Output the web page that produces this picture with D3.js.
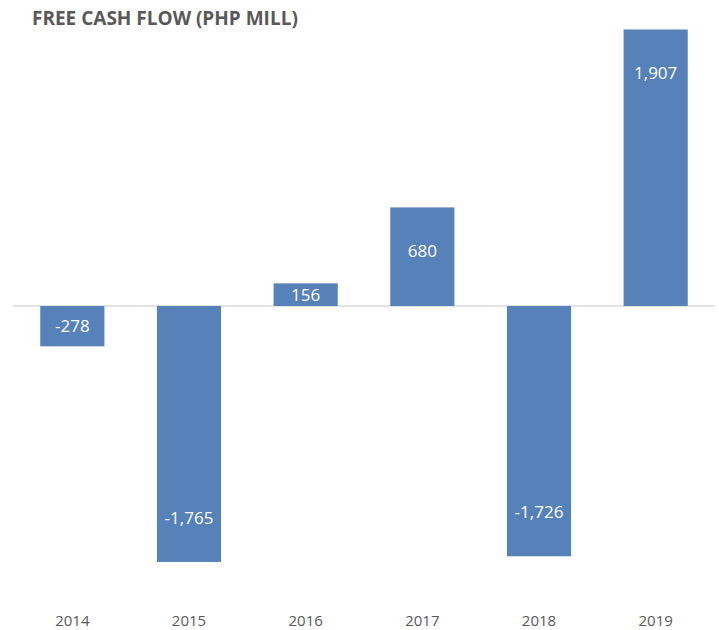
<!DOCTYPE html>
<meta charset="utf-8">
<script src="https://cdn.jsdelivr.net/npm/d3@7"></script>
<style>
body { margin: 0; background: #fff; }
.title { font-family: "Open Sans", sans-serif; font-weight: bold; font-size: 19px; fill: #595959; }
.xlab { font-family: "Open Sans", sans-serif; font-size: 15px; fill: #595959; }
.val { font-family: "Open Sans", sans-serif; font-size: 17px; fill: #fff; }
</style>
<body>
<script>

var years = ["2014", "2015", "2016", "2017", "2018", "2019"]
var fcf = [-278, -1765, 156, 680, -1726, 1907]

var width = 719
var height = 630

var svg = d3.select("body").append("svg")
            .attr("width", width)
            .attr("height", height)

var x = d3.scaleBand().domain(years).range([14, 714]).paddingInner(0.45).paddingOuter(0.225)
var y = d3.scaleLinear().domain([-2000, 2000]).range([596, 16])

svg.append("text")
   .attr("class", "title")
   .attr("x", 32)
   .attr("y", 25)
   .text("FREE CASH FLOW (PHP MILL)")

// zero line
svg.append("line")
   .attr("x1", 13)
   .attr("x2", 714)
   .attr("y1", y(0))
   .attr("y2", y(0))
   .style("stroke", "#d9d9d9")
   .style("stroke-width", 1.5)

svg.selectAll(".bar")
   .data(fcf)
   .enter().append("rect")
   .attr("class", "bar")
   .attr("x", function(d, i) { return x(years[i]); })
   .attr("width", x.bandwidth())
   .attr("y", function(d) { return Math.min(y(d), y(0)); })
   .attr("height", function(d) { return Math.abs(y(d) - y(0)); })
   .style("fill", "#5681b9")

svg.selectAll(".val")
   .data(fcf)
   .enter().append("text")
   .attr("class", "val")
   .attr("x", function(d, i) { return x(years[i]) + x.bandwidth()/2; })
   .attr("y", function(d) {
     var h = Math.abs(y(d) - y(0))
     var off = Math.min(44, h/2)
     return d >= 0 ? y(d) + off : y(d) - off
   })
   .attr("dy", "0.35em")
   .style("text-anchor", "middle")
   .text(function(d) { return d3.format(",")(d).replace("−", "-"); })

svg.selectAll(".xlab")
   .data(years)
   .enter().append("text")
   .attr("class", "xlab")
   .attr("x", function(d) { return x(d) + x.bandwidth()/2; })
   .attr("y", 621)
   .attr("dy", "0.35em")
   .style("text-anchor", "middle")
   .text(function(d) { return d; })

</script>
</body>
